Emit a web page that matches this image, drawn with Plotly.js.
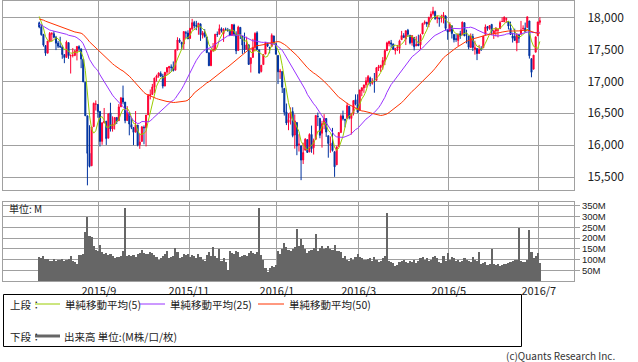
<!DOCTYPE html>
<html><head><meta charset="utf-8">
<script src="https://cdn.plot.ly/plotly-3.0.1.min.js"></script>
<style>html,body{margin:0;padding:0;background:#fff;}#chart{width:638px;height:362px;}</style>
</head><body><div id="chart"></div>
<script>
// closes of the 49 sessions before the first shown day (for the moving averages)
const preClose = [18068,18060,18252,18272,18298,18312,18285,18285,18232,18042,
18163,18126,18011,18041,18011,18077,17906,17849,17766,17765,
18001,18039,17899,17792,17905,17935,18116,18016,18120,18144,
17967,17890,17947,17597,17620,17758,17731,17684,17777,17515,
17549,17761,17978,18054,18051,18120,18086,18101,17919];

const openP = [17917,17852,17733,17561,17441,17632,17740,17745,17690,17599,
17552,17540,17418,17374,17606,17398,17404,17406,17469,17543,
17509,17345,16986,16459,15873,15676,16290,16642,16637,16529,
16059,16352,16375,16109,16505,16252,16323,16434,16383,16600,
16738,16675,16385,16508,16324,16277,16203,16314,16005,16058,
16278,16272,16474,16778,16793,16908,17054,17085,17122,17079,
16925,17144,17209,17226,17225,17174,17490,17645,17609,17586,
17760,17756,17672,17823,17921,17874,17856,17900,17721,17761,
17694,17448,17244,17487,17491,17737,17738,17823,17748,17815,
17806,17800,17719,17883,17739,17482,17845,17703,17568,17501,
17573,17277,17374,17530,17759,17493,17155,17262,17427,17593,
17535,17547,17711,17590,17405,17147,17154,16889,16520,16355,
16419,16526,16159,16355,16009,15989,15768,15921,16086,15893,
16168,15960,16090,16453,16420,16187,16328,16417,16148,16005,
16035,15897,15691,15981,16196,16459,16405,16417,16610,16418,
16502,16712,16634,16545,16851,16896,16945,16991,17050,16969,
17006,17014,17207,17217,17249,17321,17481,17589,17602,17586,
17484,17526,17512,17652,17716,17661,17799,17723,17606,17687,
17555,17586,17571,17741,17910,17926,17890,18013,18059,18092,
17985,17990,17987,17996,18023,17813,17784,17871,17735,17664,
17641,17746,17726,17919,17727,17711,17531,17701,17501,17515,
17437,17507,17525,17735,17859,17826,17891,17754,17789,17799,
17825,17936,17931,17969,17938,17830,17710,17703,17602,17733,
17736,17827,17832,17844,17946,17355,17190,17456,17713,17924];

const highP = [17935,17892,17744,17562,17631,17772,17771,17784,17712,17634,
17698,17565,17419,17639,17606,17423,17519,17490,17547,17564,
17509,17345,16986,16459,16312,16285,16666,16700,16642,16529,
16351,16582,16375,16492,16664,16451,16434,16434,16644,16755,
16933,16675,16611,16508,16428,16277,16534,16315,16178,16300,
16308,16472,16801,16871,16959,17057,17104,17139,17156,17117,
17142,17216,17242,17265,17311,17504,17690,17674,17620,17780,
17790,17799,17836,17978,17947,17947,17915,17900,17788,17817,
17694,17448,17486,17599,17739,17781,17890,17845,17833,17842,
17836,17817,17895,17901,17784,17871,17845,17703,17763,17699,
17573,17368,17666,17768,17784,17493,17252,17427,17611,17606,
17536,17750,17714,17590,17405,17195,17154,16889,16652,16500,
16591,16593,16482,16355,16171,15989,16038,16109,16086,16185,
16306,16102,16466,16510,16420,16381,16485,16423,16148,16136,
16270,15897,15974,16204,16483,16541,16410,16664,16610,16507,
16698,16795,16796,16865,16900,16944,17063,17099,17072,17048,
17130,17220,17257,17251,17379,17502,17620,17636,17648,17586,
17516,17570,17652,17790,17754,17793,17821,17723,17716,17687,
17706,17731,17745,17915,17954,17927,18009,18096,18167,18107,
18026,17990,18043,18084,18035,17814,17925,17871,17736,17743,
17744,17791,17934,17919,17809,17711,17750,17744,17636,17515,
17571,17550,17714,17891,17860,17873,17899,17809,17838,17833,
17949,18003,18016,17997,17938,17935,17762,17825,17754,17733,
17946,17877,17920,18011,17946,17355,17410,17704,17930,18003];

const lowP = [17831,17715,17544,17399,17441,17611,17624,17675,17489,17521,
17521,17353,17284,17374,17352,17122,17374,17394,17327,17474,
17206,16990,16460,15370,15651,15676,16290,16542,16429,15979,
16005,16342,16003,16109,16213,16212,16244,16331,16383,16600,
16639,16343,16385,16154,16250,16000,16203,15981,15942,16058,
16013,15980,16474,16716,16793,16816,16997,17056,17067,16888,
16925,17097,17115,17150,17153,17174,17490,17601,17499,17500,
17678,17663,17672,17801,17826,17801,17729,17633,17671,17684,
17448,17238,17244,17458,17491,17695,17738,17764,17618,17790,
17776,17717,17719,17705,17426,17482,17663,17429,17448,17501,
17256,17138,17374,17469,17495,17128,17139,17262,17427,17536,
17437,17547,17588,17421,16957,17038,16817,16463,16314,16234,
16322,16123,15945,15842,15900,15451,15704,15921,15880,15893,
15880,15853,16090,16299,16108,15961,16248,16129,15803,15881,
15899,15503,15691,15981,16196,16386,16279,16417,16404,16166,
16464,16623,16510,16545,16766,16820,16898,16940,16921,16947,
16821,17014,17161,17147,17183,17254,17481,17548,17527,17491,
17420,17474,17434,17652,17684,17568,17699,17579,17558,17484,
17555,17553,17500,17741,17888,17853,17848,17970,18031,17963,
17909,17855,17920,17907,17796,17651,17784,17670,17609,17618,
17551,17665,17726,17711,17593,17500,17531,17474,17418,17332,
17437,17480,17525,17735,17792,17807,17724,17664,17703,17689,
17822,17936,17931,17916,17812,17728,17607,17640,17471,17602,
17736,17799,17770,17844,17356,17063,17190,17456,17712,17885];

const closeP = [17851,17731,17569,17440,17631,17751,17746,17690,17598,17551,
17541,17419,17373,17615,17403,17402,17409,17477,17546,17512,
17349,16991,16460,15871,15666,16285,16655,16643,16528,16058,
16351,16375,16102,16492,16253,16330,16433,16370,16599,16740,
16675,16384,16511,16331,16280,16201,16315,16001,16049,16285,
16272,16472,16777,16790,16912,17050,17084,17131,17082,16925,
17142,17216,17230,17218,17169,17490,17647,17623,17581,17780,
17756,17664,17829,17918,17868,17863,17910,17730,17759,17702,
17449,17245,17484,17490,17738,17733,17824,17792,17813,17813,
17798,17720,17889,17730,17478,17848,17731,17568,17493,17575,
17265,17368,17525,17750,17495,17128,17252,17418,17603,17552,
17528,17721,17604,17425,17149,17159,16907,16515,16347,16399,
16516,16152,16380,15988,16016,15766,15883,16094,15886,16167,
15944,16069,16466,16449,16154,16337,16417,16205,16027,16014,
15915,15660,15974,16196,16454,16413,16392,16620,16431,16485,
16698,16640,16517,16865,16900,16944,17007,17074,16964,17001,
16995,17213,17229,17251,17326,17481,17602,17624,17583,17503,
17516,17536,17634,17717,17685,17793,17737,17603,17716,17542,
17577,17556,17721,17908,17926,17897,18004,18053,18097,17983,
18004,17978,17991,18042,17830,17774,17891,17750,17651,17660,
17740,17705,17928,17711,17721,17535,17711,17530,17526,17435,
17500,17493,17706,17851,17829,17873,17787,17790,17838,17807,
17920,17938,18006,17985,17866,17733,17675,17640,17733,17675,
17805,17830,17780,18011,17400,17141,17410,17695,17930,17949];

const volumeM = [113,108,116,104,102,92,95,104,94,98,
96,101,94,98,103,116,91,88,80,120,
122,126,226,296,210,203,165,145,140,167,
135,125,130,120,125,118,105,110,112,115,
140,342,118,120,115,120,112,125,130,144,
130,125,128,135,130,120,110,100,105,115,
125,140,105,110,115,153,135,105,110,125,
120,128,110,120,115,108,125,112,100,95,
120,135,115,160,118,105,150,95,105,90,
50,140,130,125,140,135,110,115,120,118,
130,140,130,125,135,342,120,100,60,40,
60,70,65,75,140,125,150,175,160,145,
140,150,160,241,165,195,170,150,130,140,
145,155,218,140,155,165,150,155,165,150,
145,170,140,140,135,105,115,100,95,105,
100,110,125,110,105,100,98,102,105,95,
110,100,90,95,105,115,318,95,90,85,
70,75,90,95,100,90,85,95,90,100,
85,95,105,110,100,105,95,100,110,118,
105,90,85,118,95,130,100,110,105,95,
100,90,95,105,100,95,90,110,100,95,
133,80,85,90,75,80,149,80,75,78,
72,75,80,78,85,90,95,100,98,246,
95,90,88,100,238,137,105,118,130,83];

const monthStartIdx = [29,72,114,153,196,239];
const monthLabels = ['2015/9','2015/11','2016/1','2016/3','2016/5','2016/7'];
const priceTicks = [15500,16000,16500,17000,17500,18000];
const volTicks = [50,100,150,200,250,300,350];
const volTickText = ['50M','100M','150M','200M','250M','300M','350M'];
const maPeriods = [5,25,50];
const maNames = ['単純移動平均(5)','単純移動平均(25)','単純移動平均(50)'];
const maColors = ['#99cc00','#9933ff','#ff3300'];

const W = 638, H = 362;
const px = v => v / W;
const py = v => 1 - v / H;

const idx = closeP.map((_, i) => i);
const allClose = preClose.concat(closeP);
function sma(p) {
  return closeP.map((_, i) => {
    const k = i + preClose.length;
    let s = 0;
    for (let j = k - p + 1; j <= k; j++) s += allClose[j];
    return s / p;
  });
}

const FONT = '"Noto Sans CJK JP", "Noto Sans", sans-serif';
const GRID = '#a0a0a0';
const boundaries = monthStartIdx.map(v => v - 0.5);

const traces = [{
  type: 'candlestick', x: idx, open: openP, high: highP, low: lowP, close: closeP,
  xaxis: 'x', yaxis: 'y', whiskerwidth: 0, hoverinfo: 'skip',
  increasing: {line: {color: '#ff0033', width: 1}, fillcolor: '#ff0033'},
  decreasing: {line: {color: '#0033a0', width: 1}, fillcolor: '#0033a0'}
}];
maPeriods.forEach((p, k) => {
  traces.push({type: 'scatter', mode: 'lines', x: idx, y: sma(p), xaxis: 'x', yaxis: 'y',
    line: {color: maColors[k], width: 1}, hoverinfo: 'skip'});
});
traces.push({type: 'bar', x: idx, y: volumeM, xaxis: 'x2', yaxis: 'y2', width: 1,
  marker: {color: '#666666', line: {width: 0}}, hoverinfo: 'skip'});

const xBase = {
  domain: [px(3), px(574)], range: [-17.3, 255.3], tickmode: 'array', tickvals: boundaries,
  showgrid: true, gridcolor: GRID, gridwidth: 1, zeroline: false,
  showline: true, mirror: true, linecolor: GRID, linewidth: 1, fixedrange: true
};

const annotations = [
  {xref: 'paper', yref: 'paper', x: px(7), y: py(208), xanchor: 'left', yanchor: 'middle',
   text: '単位: M', showarrow: false, font: {size: 10, color: '#222'}},
  {xref: 'paper', yref: 'paper', x: px(8), y: py(304), xanchor: 'left', yanchor: 'middle',
   text: '上段：', showarrow: false, font: {size: 10.5, color: '#222'}},
  {xref: 'paper', yref: 'paper', x: px(8), y: py(336), xanchor: 'left', yanchor: 'middle',
   text: '下段：', showarrow: false, font: {size: 10.5, color: '#222'}},
  {xref: 'paper', yref: 'paper', x: px(62), y: py(336), xanchor: 'left', yanchor: 'middle',
   text: '出来高 単位:(M株/口/枚)', showarrow: false, font: {size: 10.5, color: '#222'}},
  {xref: 'paper', yref: 'paper', x: px(617), y: py(355), xanchor: 'right', yanchor: 'middle',
   text: '(c)Quants Research Inc.', showarrow: false, font: {size: 10, color: '#333'}}
];
const legLine = [[35, 60, 63], [140, 165, 168], [258, 284, 287]];
const shapes = [
  {type: 'rect', xref: 'paper', yref: 'paper', x0: px(3.5), x1: px(521.5), y0: py(294.5), y1: py(346.5),
   line: {color: '#000', width: 1}, fillcolor: 'rgba(0,0,0,0)'},
  {type: 'line', xref: 'paper', yref: 'paper', x0: px(35), x1: px(60), y0: py(336), y1: py(336),
   line: {color: '#666666', width: 3}}
];
maNames.forEach((n, k) => {
  const [a, b, t] = legLine[k];
  shapes.push({type: 'line', xref: 'paper', yref: 'paper', x0: px(a), x1: px(b), y0: py(304), y1: py(304),
    line: {color: maColors[k], width: 1}});
  annotations.push({xref: 'paper', yref: 'paper', x: px(t), y: py(304), xanchor: 'left', yanchor: 'middle',
    text: n, showarrow: false, font: {size: 10.5, color: '#222'}});
});

const layout = {
  width: W, height: H, margin: {l: 0, r: 0, t: 0, b: 0},
  paper_bgcolor: '#fff', plot_bgcolor: '#fff', showlegend: false, bargap: 0,
  font: {family: FONT, size: 11, color: '#222'},
  xaxis: Object.assign({}, xBase, {anchor: 'y', showticklabels: false, ticks: '',
    rangeslider: {visible: false}}),
  xaxis2: Object.assign({}, xBase, {anchor: 'y2', matches: 'x', ticktext: monthLabels,
    showticklabels: true, ticks: '', tickfont: {size: 11, color: '#222'}}),
  yaxis: {domain: [py(190), py(0.5)], range: [15297, 18266], side: 'right', anchor: 'x',
    tickmode: 'array', tickvals: priceTicks, tickformat: ',', ticks: 'outside', ticklen: 10,
    tickcolor: 'rgba(0,0,0,0)', tickfont: {size: 12, color: '#222'},
    showgrid: true, gridcolor: GRID, gridwidth: 1, zeroline: false,
    showline: true, mirror: true, linecolor: GRID, linewidth: 1, fixedrange: true},
  yaxis2: {domain: [py(281), py(202)], range: [0, 368], side: 'right', anchor: 'x2',
    tickmode: 'array', tickvals: volTicks, ticktext: volTickText, ticks: 'outside', ticklen: 5,
    tickcolor: GRID, tickfont: {size: 9.5, color: '#222', family: '"Liberation Sans", Arial, sans-serif'},
    showgrid: true, gridcolor: GRID, gridwidth: 1, zeroline: false,
    showline: true, mirror: true, linecolor: GRID, linewidth: 1, fixedrange: true},
  annotations: annotations, shapes: shapes
};

Plotly.newPlot('chart', traces, layout, {staticPlot: true, displayModeBar: false});
</script>
</body></html>
